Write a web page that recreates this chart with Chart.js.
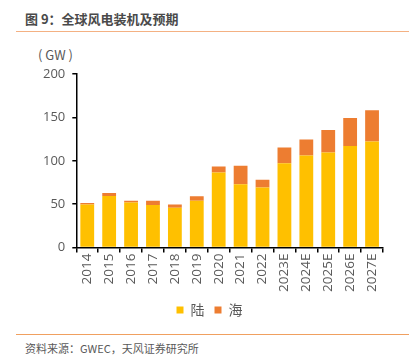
<!DOCTYPE html>
<html>
<head>
<meta charset="utf-8">
<script src="https://cdn.jsdelivr.net/npm/chart.js@4/dist/chart.umd.min.js"></script>
<style>
    body { margin: 0; width: 413px; height: 364px; background: #fff; position: relative; overflow: hidden;
        font-family: "Noto Sans CJK SC", "Noto Sans", sans-serif; }
    #title { position: absolute; left: 25px; top: 9px; font-size: 13px; font-weight: bold; color: #4a4a4a; }
    #topLine { position: absolute; left: 16px; top: 31px; width: 393px; height: 1px; background: #F4B183; }
    #unit { position: absolute; left: 38px; top: 45px; font-size: 13px; color: #595959; white-space: pre; }
    #chartBox { position: absolute; left: 0; top: 40px; width: 413px; height: 287px; }
    #bottomLine { position: absolute; left: 16px; top: 334px; width: 393px; height: 1px; background: #F0A060; }
    #source { position: absolute; left: 25px; top: 340px; font-size: 11px; color: #595959; }
</style>
</head>
<body>
<div id="title">图 9：全球风电装机及预期</div>
<div id="topLine"></div>
<div id="unit">( GW )</div>
<div id="chartBox"><canvas id="windChart"></canvas></div>
<div id="bottomLine"></div>
<div id="source">资料来源：GWEC，天风证券研究所</div>
<script>
const years = ['2014', '2015', '2016', '2017', '2018', '2019', '2020', '2021', '2022',
    '2023E', '2024E', '2025E', '2026E', '2027E'];
const onshore = [49.8, 59.5, 52, 49, 46, 54, 86.5, 73, 69.3, 97.3, 106.1, 109.5, 117.2, 122.2];
const offshore = [1.5, 3.5, 2, 5, 3.8, 5.2, 6.9, 21.4, 8.8, 18, 18.4, 26, 32, 36];
const yTicks = [0, 50, 100, 150, 200];

const labelColor = '#595959';

const drawChart = () => {
    const ctx = document.getElementById('windChart').getContext('2d');
    new Chart(ctx, {
        type: 'bar',
        data: {
            labels: years,
            datasets: [
                { label: '陆', data: onshore, backgroundColor: '#FFC000', barPercentage: 0.63, categoryPercentage: 1 },
                { label: '海', data: offshore, backgroundColor: '#ED7D31', barPercentage: 0.63, categoryPercentage: 1 }
            ]
        },
        options: {
            responsive: true,
            maintainAspectRatio: false,
            animation: false,
            layout: { padding: { left: 36, right: 30, top: 34, bottom: 0 } },
            plugins: {
                legend: {
                    position: 'bottom',
                    labels: {
                        boxWidth: 7, boxHeight: 7, padding: 10,
                        color: labelColor,
                        font: { size: 14, family: '"Noto Sans CJK SC"' }
                    }
                },
                tooltip: { enabled: false }
            },
            scales: {
                x: {
                    stacked: true,
                    border: { color: '#000', width: 1.5 },
                    grid: { offset: true, drawOnChartArea: false, color: '#000', tickLength: 5, lineWidth: 1.5 },
                    ticks: {
                        color: labelColor, minRotation: 90, maxRotation: 90, padding: 1,
                        font: { size: 13.5, family: '"Open Sans"' }
                    }
                },
                y: {
                    stacked: true,
                    min: 0, max: 200,
                    afterBuildTicks: (axis) => { axis.ticks = yTicks.map(v => ({ value: v })); },
                    border: { color: '#000', width: 1.5 },
                    grid: { drawOnChartArea: false, color: '#000', tickLength: 4, lineWidth: 1.5 },
                    ticks: {
                        color: labelColor, padding: 7,
                        font: { size: 13, family: '"Open Sans"' }
                    }
                }
            }
        }
    });
};

drawChart();
</script>
</body>
</html>
